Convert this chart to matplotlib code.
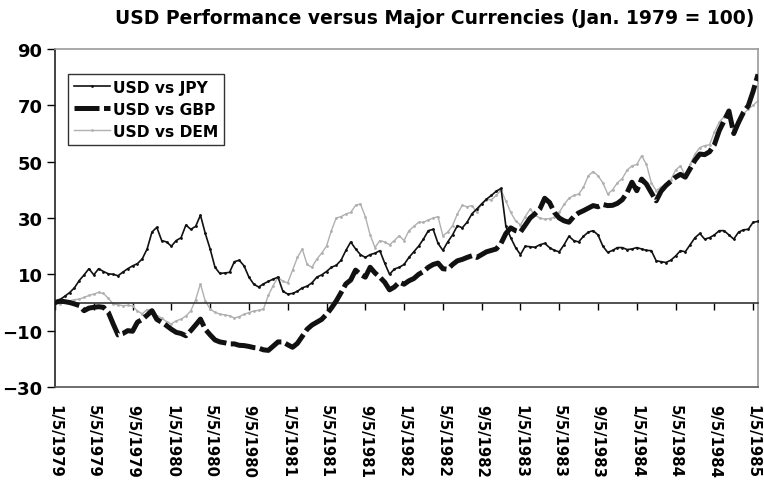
import numpy as np
import matplotlib
matplotlib.use("Agg")
import matplotlib.pyplot as plt

# Semi-monthly readings, Jan 1979 .. mid Jan 1985 (index 0.5 month apart)
usd_jpy = [0, 1.0, 2.2, 3.5, 5.2, 7.8, 9.8, 12.0, 9.8, 12.0,
           11.0, 10.2, 10.0, 9.5, 10.8, 12.0, 13.0, 13.8, 15.5, 19.0,
           25.0, 26.7, 22.0, 21.5, 20.0, 22.0, 23.0, 27.5, 26.0, 27.0,
           31.0, 24.5, 19.0, 12.5, 10.3, 10.5, 10.7, 14.5, 15.0, 13.0,
           9.0, 6.5, 5.5, 6.6, 7.5, 8.3, 9.0, 4.0, 3.0, 3.2,
           4.0, 5.2, 5.8, 7.0, 9.0, 9.8, 11.0, 12.5, 13.2, 15.0,
           18.5, 21.5, 19.0, 17.0, 16.0, 17.0, 17.5, 18.4, 14.0, 10.0,
           11.9, 12.5, 13.5, 16.0, 18.0, 20.0, 22.5, 25.5, 26.0, 21.0,
           18.5, 21.5, 24.0, 27.3, 26.5, 28.5, 31.5, 33.2, 35.0, 36.7,
           38.0, 39.5, 40.5, 27.0, 23.0, 19.5, 17.0, 20.0, 19.8, 19.6,
           20.5, 21.0, 19.5, 18.5, 18.0, 20.5, 23.5, 22.0, 21.5, 23.5,
           25.0, 25.5, 24.0, 20.0, 17.8, 18.5, 19.5, 19.5, 18.8, 19.0,
           19.5, 19.0, 18.5, 18.4, 14.8, 14.5, 14.2, 15.0, 16.5, 18.4,
           18.0, 20.5, 23.0, 24.5, 22.5, 23.0, 24.0, 25.5, 25.5, 24.0,
           22.5, 25.0, 25.8, 26.0, 28.5, 28.8]

usd_gbp = [0, 0.5, 0.3, 0, -0.5, -1.1, -2.9, -2.0, -1.7, -1.5,
           -1.7, -3.5, -7.6, -11.5, -11.0, -10.0, -10.2, -7.0, -6.0, -4.5,
           -2.9, -6.0, -7.0, -8.2, -9.5, -10.6, -11.0, -11.8, -10.0, -8.0,
           -5.9, -9.5, -11.5, -13.3, -14.0, -14.3, -14.7, -14.7, -15.2, -15.3,
           -15.6, -16.0, -16.2, -16.8, -17.0, -15.5, -14.0, -14.0, -15.0, -15.9,
           -14.5, -12.0, -9.5, -8.0, -7.0, -6.0, -4.2, -2.0, 0.5, 3.5,
           6.6, 8.0, 11.5, 10.0, 9.0, 12.5, 10.5, 9.0, 7.2, 4.5,
           5.5, 7.2, 6.5, 7.7, 8.5, 10.0, 11.0, 12.5, 13.5, 14.0,
           12.0, 11.8, 13.5, 14.8, 15.3, 16.0, 16.6, 16.0, 17.0, 18.0,
           18.5, 19.0, 21.0, 24.5, 26.5, 25.5, 25.0, 27.5, 30.0, 31.5,
           33.2, 37.0, 35.5, 32.0, 30.0, 29.0, 28.5, 30.5, 31.8, 32.6,
           33.5, 34.4, 34.0, 34.8, 34.4, 34.5, 35.2, 36.5, 39.0, 42.7,
           39.7, 43.8, 42.0, 39.0, 36.1, 39.5, 41.5, 43.0, 44.5, 45.5,
           44.5, 47.5, 50.5, 52.7, 52.5, 53.5, 56.0, 61.0, 64.5, 68.0,
           60.0, 64.0, 67.5, 69.9, 75.0, 81.0]

usd_dem = [0, -0.5, 0.2, 0.6, 1.0, 1.2, 1.8, 2.5, 3.0, 3.6,
           3.2, 1.5, -0.5, -0.8, -1.1, -1.0, -1.2, -3.0, -4.0, -2.5,
           -2.8, -4.7, -5.5, -6.8, -7.6, -6.5, -5.9, -4.8, -3.0, 1.0,
           6.6, 0.5, -2.3, -3.5, -4.1, -4.4, -4.7, -5.5, -5.0, -4.2,
           -3.6, -3.0, -2.8, -2.3, 2.5, 6.0, 9.0, 7.5, 7.0, 11.5,
           16.0, 19.0, 13.5, 12.5, 15.4, 17.5, 20.0, 25.5, 30.0, 30.5,
           31.4, 32.0, 34.5, 35.0, 30.5, 24.0, 19.5, 22.0, 21.5, 20.5,
           22.0, 23.7, 22.0, 25.5, 27.0, 28.5, 28.5, 29.3, 30.0, 30.5,
           23.7, 25.0, 27.3, 31.5, 34.5, 34.0, 34.4, 32.0, 35.0, 36.5,
           36.5, 38.0, 40.0, 36.0, 32.0, 29.0, 27.5, 30.5, 33.2, 31.0,
           30.0, 29.6, 29.8, 30.2, 32.0, 34.8, 37.0, 38.0, 38.5, 40.9,
           45.0, 46.5, 45.0, 42.5, 38.5, 40.0, 42.5, 44.0, 47.0, 48.5,
           49.0, 52.1, 49.0, 42.5, 39.7, 41.0, 42.0, 43.5, 47.0, 48.5,
           45.0, 49.0, 52.7, 55.0, 55.7, 56.0, 60.5, 64.0, 66.0, 66.5,
           60.0, 64.0, 67.0, 68.7, 70.0, 71.6]

tick_labels = ["1/5/1979", "5/5/1979", "9/5/1979", "1/5/1980", "5/5/1980",
               "9/5/1980", "1/5/1981", "5/5/1981", "9/5/1981", "1/5/1982",
               "5/5/1982", "9/5/1982", "1/5/1983", "5/5/1983", "9/5/1983",
               "1/5/1984", "5/5/1984", "9/5/1984", "1/5/1985"]
y_ticks = [-30, -10, 10, 30, 50, 70, 90]

plt.rcParams['font.family'] = ['DejaVu Sans']
plt.rcParams['font.weight'] = 'bold'

fig = plt.figure(figsize=(7.64, 4.81), dpi=100)
ax = fig.add_axes([55/764, 1-388/481, (758-55)/764, (388-50)/481])

months = np.arange(len(usd_jpy)) * 0.5

ax.plot(months, usd_dem, color='#b0b0b0', lw=1.0, marker='.', ms=2,
        label='USD vs DEM', zorder=2)
ax.plot(months, usd_gbp, color='#111111', lw=3.6, linestyle=(0, (5, 0.9)),
        label='USD vs GBP', zorder=3)
ax.plot(months, usd_jpy, color='#111111', lw=1.2, marker='.', ms=2,
        label='USD vs JPY', zorder=4)

ax.set_xlim(0, 72.5)
ax.set_ylim(-30, 90)
ax.set_yticks(y_ticks)
ax.tick_params(axis='y', direction='out', length=6, width=1, pad=3)
ax.set_yticklabels([str(v) if v >= 0 else '\u2212' + str(-v) for v in y_ticks],
                   fontsize=13, fontweight='bold')

ax.spines['bottom'].set_position(('data', 0))
ax.spines['bottom'].set_color('#333333')
ax.spines['bottom'].set_linewidth(1.2)
ax.tick_params(axis='x', direction='out', length=5, width=1, pad=68)
ax.set_xticks(np.arange(len(tick_labels)) * 4)
ax.set_xticklabels(tick_labels, fontsize=10.7, fontweight='bold')
for lbl in ax.get_xticklabels():
    lbl.set_rotation(-90)
    lbl.set_ha('center')
    lbl.set_va('top')

for s in ['top', 'right']:
    ax.spines[s].set_color('#9a9a9a')
    ax.spines[s].set_linewidth(1.2)
ax.spines['left'].set_color('#222222')
ax.spines['left'].set_linewidth(1.2)
ax.axhline(-30, color='#555555', lw=1.2, clip_on=False, zorder=5)

handles, labels = ax.get_legend_handles_labels()
order = [2, 1, 0]
leg = ax.legend([handles[i] for i in order], [labels[i] for i in order],
                loc='upper left', bbox_to_anchor=(0.018, 0.927),
                prop={'weight': 'bold', 'size': 11.2}, frameon=True,
                fancybox=False, edgecolor='black', handlelength=2.3,
                handletextpad=0.2, borderpad=0.4, labelspacing=0.45,
                borderaxespad=0)
leg.get_frame().set_linewidth(1.0)

fig.text(435/764, 1-18/481, 'USD Performance versus Major Currencies (Jan. 1979 = 100)',
         ha='center', va='center', fontsize=13.5, fontweight='bold')

fig.savefig('out.png', dpi=100)
